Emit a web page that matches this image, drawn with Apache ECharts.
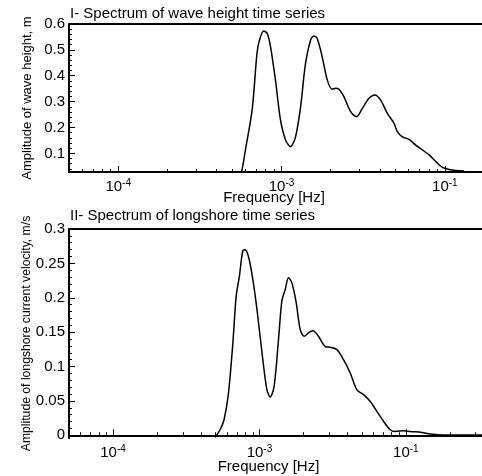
<!DOCTYPE html>
<html><head><meta charset="utf-8">
<script src="https://cdn.jsdelivr.net/npm/echarts@6/dist/echarts.min.js"></script>
<style>html,body{margin:0;padding:0;background:#fff}#c{width:482px;height:476px}</style>
</head><body><div id="c"></div>
<script>
// ---- data ----
const waveFreq = [5.4e-4, 5.69e-4, 6.01e-4, 6.61e-4, 7.08e-4, 7.33e-4, 7.78e-4, 8.17e-4, 8.57e-4, 9.18e-4, 9.86e-4, 1.059e-3, 1.135e-3, 1.219e-3, 1.309e-3, 1.403e-3, 1.507e-3, 1.578e-3, 1.652e-3, 1.774e-3, 1.905e-3, 2.042e-3, 2.143e-3, 2.249e-3, 2.410e-3, 2.649e-3, 2.884e-3, 3.126e-3, 3.436e-3, 3.733e-3, 4.046e-3, 4.446e-3, 4.887e-3, 5.117e-3, 5.495e-3, 6.039e-3, 6.637e-3, 7.295e-3, 8.017e-3, 8.810e-3, 9.66e-3, 1.062e-2, 1.167e-2, 1.312e-2];
const waveAmp = [0.0, 0.028, 0.113, 0.268, 0.487, 0.538, 0.573, 0.564, 0.512, 0.384, 0.229, 0.152, 0.126, 0.164, 0.280, 0.448, 0.538, 0.554, 0.545, 0.474, 0.384, 0.348, 0.352, 0.348, 0.319, 0.261, 0.242, 0.274, 0.313, 0.326, 0.306, 0.255, 0.216, 0.184, 0.164, 0.154, 0.132, 0.113, 0.094, 0.068, 0.046, 0.038, 0.034, 0.032];
const longFreq = [4.98e-4, 5.38e-4, 5.73e-4, 6.14e-4, 6.58e-4, 6.93e-4, 7.29e-4, 7.69e-4, 7.98e-4, 8.41e-4, 9.02e-4, 9.68e-4, 1.054e-3, 1.125e-3, 1.183e-3, 1.259e-3, 1.349e-3, 1.422e-3, 1.500e-3, 1.578e-3, 1.663e-3, 1.782e-3, 1.897e-3, 2.018e-3, 2.163e-3, 2.317e-3, 2.529e-3, 2.812e-3, 3.034e-3, 3.381e-3, 3.750e-3, 4.169e-3, 4.634e-3, 5.140e-3, 5.715e-3, 6.339e-3, 7.047e-3, 7.816e-3, 8.472e-3, 9.64e-3, 1.072e-2, 1.288e-2, 1.466e-2, 1.807e-2, 4.0e-2];
const longAmp = [-0.003, 0.008, 0.0226, 0.061, 0.134, 0.202, 0.231, 0.268, 0.270, 0.260, 0.226, 0.178, 0.110, 0.066, 0.0556, 0.071, 0.139, 0.195, 0.212, 0.229, 0.222, 0.193, 0.154, 0.144, 0.149, 0.152, 0.144, 0.129, 0.128, 0.1245, 0.110, 0.0905, 0.066, 0.059, 0.049, 0.0347, 0.020, 0.008, 0.0055, 0.0066, 0.0055, 0.004, 0.0017, 0.0003, 0.0003];

const xTickValues = [1e-4, 1e-3, 1e-2];
const xTickExps = ['-4', '-3', '-1'];
const xMinorTicks = [6e-5, 7e-5, 8e-5, 9e-5, 2e-4, 3e-4, 4e-4, 5e-4, 6e-4, 7e-4, 8e-4, 9e-4, 2e-3, 3e-3, 4e-3, 5e-3, 6e-3, 7e-3, 8e-3, 9e-3, 2e-2, 3e-2];
const waveYTicks = [0.1, 0.2, 0.3, 0.4, 0.5, 0.6];
const longYTicks = [0, 0.05, 0.1, 0.15, 0.2, 0.25, 0.3];

const titles = ['I- Spectrum of wave height time series', 'II- Spectrum of longshore time series'];
const yNames = ['Amplitude of wave height, m', 'Amplitude of longshore current velocity, m/s'];
const xName = 'Frequency [Hz]';

// minor y ticks
const waveYMinor = []; for (let v = 0.04; v <= 0.6001; v += 0.02) waveYMinor.push(+v.toFixed(3));
const longYMinor = []; for (let v = 0; v <= 0.3001; v += 0.01) longYMinor.push(+v.toFixed(3));

const FONT = 'Liberation Sans, Arial, Helvetica, sans-serif';
const chart = echarts.init(document.getElementById('c'), null, {renderer: 'canvas'});

function xLabelFmt(v) {
  const i = xTickValues.findIndex(t => Math.abs(t - v) / t < 1e-6);
  return i >= 0 ? '{b|10}{s|' + xTickExps[i] + '}' : '';
}
const richX = {
  b: {fontSize: 15, fontFamily: FONT, color: '#000'},
  s: {fontSize: 10, fontFamily: FONT, color: '#000', padding: [0, 0, 8, 0]}
};

const grids = [
  {left: 69, top: 24, height: 148, width: 425},
  {left: 69, top: 229, height: 209, width: 425}
];
const xRanges = [[5e-5, 2e-2], [5e-5, 4e-2]];
const yRanges = [[0.028, 0.6], [-0.004, 0.3]];
const yMaj = [waveYTicks, longYTicks];
const yMin = [waveYMinor, longYMinor];
const xNameGap = [18, 21];
const xNamePad = [[0, 15, 0, 0], [0, 26, 0, 0]];
const yNameGap = [35, 36];
const yNameSize = [13, 12.2];

const xAxes = [], yAxes = [];
grids.forEach((g, k) => {
  xAxes.push({
    type: 'log', gridIndex: k, position: 'bottom', min: xRanges[k][0], max: xRanges[k][1],
    name: xName, nameLocation: 'middle', nameGap: xNameGap[k], nameMoveOverlap: false,
    nameTextStyle: {fontSize: 15, fontFamily: FONT, color: '#000', padding: xNamePad[k]},
    axisLine: {show: true, lineStyle: {color: '#000', width: 2}},
    axisTick: {show: true, inside: true, length: 6, customValues: xTickValues, lineStyle: {color: '#000', width: 1}},
    axisLabel: {show: true, customValues: xTickValues, formatter: xLabelFmt, rich: richX, margin: 6},
    splitLine: {show: false}
  });
  xAxes.push({
    type: 'log', gridIndex: k, position: 'bottom', min: xRanges[k][0], max: xRanges[k][1],
    axisLine: {show: false},
    axisTick: {show: true, inside: true, length: 3, customValues: xMinorTicks, lineStyle: {color: '#000', width: 1}},
    axisLabel: {show: false}, splitLine: {show: false}
  });
  xAxes.push({
    type: 'log', gridIndex: k, position: 'top', min: xRanges[k][0], max: xRanges[k][1],
    axisLine: {show: true, lineStyle: {color: '#000', width: 2}},
    axisTick: {show: false}, axisLabel: {show: false}, splitLine: {show: false}
  });
  yAxes.push({
    type: 'value', gridIndex: k, position: 'left', min: yRanges[k][0], max: yRanges[k][1],
    name: yNames[k], nameLocation: 'middle', nameGap: yNameGap[k], nameRotate: 90, nameMoveOverlap: false,
    nameTextStyle: {fontSize: yNameSize[k], fontFamily: FONT, color: '#000'},
    axisLine: {show: true, lineStyle: {color: '#000', width: 2}},
    axisTick: {show: true, inside: true, length: 6, customValues: yMaj[k], lineStyle: {color: '#000', width: 1}},
    axisLabel: {show: true, customValues: yMaj[k], fontSize: 15, fontFamily: FONT, color: '#000', margin: 4},
    splitLine: {show: false}
  });
  yAxes.push({
    type: 'value', gridIndex: k, position: 'left', min: yRanges[k][0], max: yRanges[k][1],
    axisLine: {show: false},
    axisTick: {show: true, inside: true, length: 3, customValues: yMin[k], lineStyle: {color: '#000', width: 1}},
    axisLabel: {show: false}, splitLine: {show: false}
  });
});

chart.setOption({
  backgroundColor: '#fff',
  animation: false,
  title: [
    {text: titles[0], left: 70, top: 6, padding: 0, textStyle: {fontSize: 15, fontWeight: 'normal', fontFamily: FONT, color: '#000'}},
    {text: titles[1], left: 70, top: 208, padding: 0, textStyle: {fontSize: 15, fontWeight: 'normal', fontFamily: FONT, color: '#000'}}
  ],
  grid: grids.map(g => Object.assign({outerBoundsMode: 'none', containLabel: false}, g)),
  xAxis: xAxes,
  yAxis: yAxes,
  series: [
    {type: 'line', xAxisIndex: 0, yAxisIndex: 0, data: waveFreq.map((f, i) => [f, waveAmp[i]]),
     showSymbol: false, smooth: 0.3, lineStyle: {color: '#000', width: 1.5}, clip: true},
    {type: 'line', xAxisIndex: 3, yAxisIndex: 2, data: longFreq.map((f, i) => [f, longAmp[i]]),
     showSymbol: false, smooth: 0.3, lineStyle: {color: '#000', width: 1.5}, clip: true}
  ]
});
</script>
</body></html>
